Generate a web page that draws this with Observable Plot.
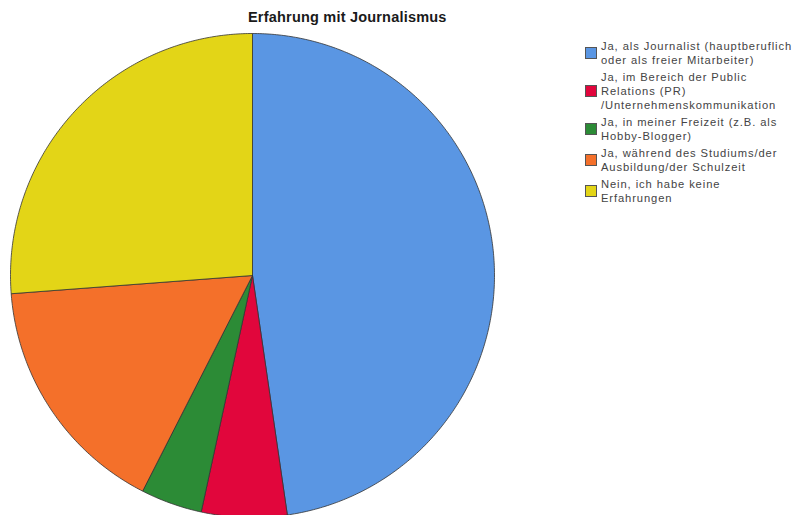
<!DOCTYPE html>
<html><head><meta charset="utf-8">
<script src="https://cdn.jsdelivr.net/npm/d3@7"></script>
<script src="https://cdn.jsdelivr.net/npm/@observablehq/plot@0.6"></script>
<style>
body{margin:0;background:#fff;font-family:"Liberation Sans",Arial,sans-serif;}
#wrap{position:relative;width:800px;height:515px;overflow:hidden;}
#title{position:absolute;left:248px;top:9px;font-size:14.5px;font-weight:bold;color:#1a1a1a;white-space:nowrap;letter-spacing:0.2px;}
#legend{position:absolute;left:585px;top:39px;font-size:11.2px;color:#444;line-height:14px;letter-spacing:0.9px;}
.item{display:flex;align-items:center;margin-bottom:3px;}
.sw{width:10px;height:10px;border:1px solid #555;margin-right:4px;flex:none;}
#chart{position:absolute;left:0;top:0;}
</style></head>
<body>
<div id="wrap">
<div id="chart"></div>
<div id="title">Erfahrung mit Journalismus</div>
<div id="legend"></div>
</div>
<script>
const categories = [
  "Ja, als Journalist (hauptberuflich oder als freier Mitarbeiter)",
  "Ja, im Bereich der Public Relations (PR) /Unternehmenskommunikation",
  "Ja, in meiner Freizeit (z.B. als Hobby-Blogger)",
  "Ja, während des Studiums/der Ausbildung/der Schulzeit",
  "Nein, ich habe keine Erfahrungen"
];
const legendLines = [
  ["Ja, als Journalist (hauptberuflich", "oder als freier Mitarbeiter)"],
  ["Ja, im Bereich der Public", "Relations (PR)", "/Unternehmenskommunikation"],
  ["Ja, in meiner Freizeit (z.B. als", "Hobby-Blogger)"],
  ["Ja, während des Studiums/der", "Ausbildung/der Schulzeit"],
  ["Nein, ich habe keine", "Erfahrungen"]
];
const values = [47.7, 5.7, 4.1, 16.3, 26.2];
const colors = ["#5A96E3", "#E1063C", "#2C8B36", "#F4702A", "#E3D517"];

const arcs = d3.pie().sort(null).value(d => d)(values);
const pts = [];
arcs.forEach((a, i) => {
  const cat = categories[i];
  pts.push({cat, x: 0, y: 0});
  const n = Math.max(2, Math.ceil((a.endAngle - a.startAngle) / 0.01));
  for (let k = 0; k <= n; k++) {
    const t = a.startAngle + (a.endAngle - a.startAngle) * k / n;
    pts.push({cat, x: Math.sin(t), y: Math.cos(t)});
  }
  pts.push({cat, x: 0, y: 0});
});

const cx = 252, cy = 275, r = 242;
const chart = Plot.plot({
  width: 800, height: 515, margin: 0,
  x: {domain: [-1, 1], range: [cx - r, cx + r], axis: null},
  y: {domain: [-1, 1], range: [cy + r, cy - r], axis: null},
  color: {domain: categories, range: colors},
  marks: [
    Plot.line(pts, {x: "x", y: "y", z: "cat", fill: "cat", stroke: "#333", strokeWidth: 0.8, curve: "linear", strokeLinejoin: "round"})
  ]
});
document.getElementById("chart").appendChild(chart);

const leg = document.getElementById("legend");
legendLines.forEach((lines, i) => {
  const d = document.createElement("div"); d.className = "item";
  const s = document.createElement("div"); s.className = "sw"; s.style.background = colors[i];
  const t = document.createElement("div"); t.innerHTML = lines.join("<br>");
  d.appendChild(s); d.appendChild(t); leg.appendChild(d);
});
</script>
</body></html>
